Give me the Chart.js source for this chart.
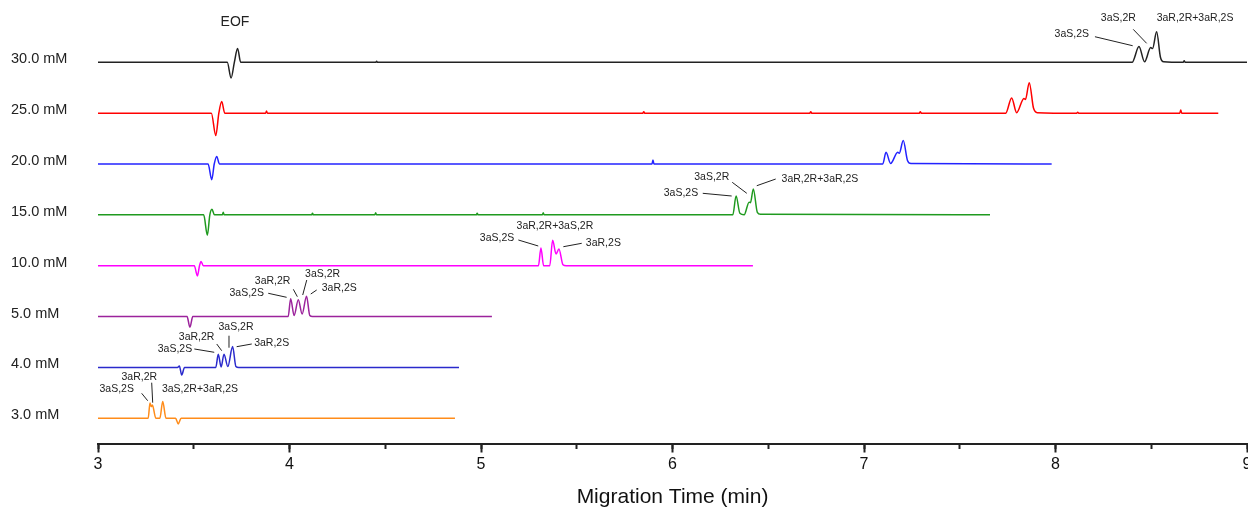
<!DOCTYPE html>
<html>
<head>
<meta charset="utf-8">
<script src="https://cdn.jsdelivr.net/npm/chart.js@4.4.1/dist/chart.umd.min.js"></script>
<style>html,body{margin:0;padding:0;background:#fff;overflow:hidden}</style>
</head>
<body>
<canvas id="c" width="1248" height="511" style="display:block;width:1248px;height:511px"></canvas>
<script>
// ---------- DATA ----------
const concentrations = ['30.0 mM', '25.0 mM', '20.0 mM', '15.0 mM', '10.0 mM', '5.0 mM', '4.0 mM', '3.0 mM'];
const stackOffsets = [7, 6, 5, 4, 3, 2, 1, 0];
const xTickValues = [3, 4, 5, 6, 7, 8, 9];

// migration time (min) / signal (stack units) per trace
const t30 = [3.0, 3.675, 3.695, 3.712, 3.729, 3.745, 4.45, 4.455, 4.46, 8.40, 8.436, 8.465, 8.497, 8.507, 8.528, 8.548, 8.565, 8.667, 8.672, 8.677, 9.0];
const v30 = [0, 0, -0.31, 0, 0.27, 0, 0, 0.02, 0, 0, 0.31, 0.01, 0.29, 0.27, 0.60, 0.10, 0.01, 0, 0.03, 0, 0];

const t25 = [3.0, 3.592, 3.615, 3.631, 3.646, 3.662, 3.875, 3.88, 3.885, 5.845, 5.85, 5.855, 6.717, 6.722, 6.727, 7.289, 7.294, 7.299, 7.74, 7.771, 7.797, 7.835, 7.843, 7.863, 7.885, 7.905, 8.111, 8.116, 8.121, 8.649, 8.654, 8.659, 8.85];
const v25 = [0, 0, -0.44, 0, 0.23, 0, 0, 0.04, 0, 0, 0.03, 0, 0, 0.03, 0, 0, 0.03, 0, 0, 0.30, 0.01, 0.29, 0.27, 0.60, 0.10, 0.01, 0, 0.02, 0, 0, 0.06, 0, 0];

const t20 = [3.0, 3.575, 3.594, 3.607, 3.620, 3.634, 5.893, 5.898, 5.903, 7.098, 7.115, 7.139, 7.176, 7.184, 7.205, 7.227, 7.245, 7.98];
const v20 = [0, 0, -0.31, 0, 0.15, 0, 0, 0.08, 0, 0, 0.23, 0.01, 0.23, 0.21, 0.46, 0.07, 0.01, 0];

const t15 = [3.0, 3.552, 3.571, 3.584, 3.595, 3.608, 3.649, 3.654, 3.659, 4.115, 4.12, 4.125, 4.445, 4.45, 4.455, 4.975, 4.98, 4.985, 5.32, 5.325, 5.33, 6.315, 6.332, 6.352, 6.374, 6.400, 6.407, 6.422, 6.443, 6.46, 7.658];
const v15 = [0, 0, -0.40, 0, 0.11, 0, 0, 0.05, 0, 0, 0.03, 0, 0, 0.04, 0, 0, 0.03, 0, 0, 0.04, 0, 0, 0.37, 0.03, 0, 0.25, 0.24, 0.51, 0.05, 0.01, 0];

const t10 = [3.0, 3.503, 3.519, 3.530, 3.538, 3.550, 5.300, 5.313, 5.327, 5.359, 5.374, 5.392, 5.407, 5.428, 5.445, 6.42];
const v10 = [0, 0, -0.20, 0, 0.085, 0, 0, 0.35, 0, 0, 0.50, 0.23, 0.33, 0.02, 0, 0];

const t5 = [3.0, 3.465, 3.48, 3.495, 3.993, 4.006, 4.024, 4.046, 4.066, 4.089, 4.106, 4.12, 5.057];
const v5 = [0, 0, -0.21, 0, 0, 0.35, 0.02, 0.33, 0.05, 0.40, 0.02, 0, 0];

const t4 = [3.0, 3.415, 3.425, 3.437, 3.452, 3.615, 3.628, 3.643, 3.658, 3.678, 3.703, 3.72, 3.735, 4.885];
const v4 = [0, 0, 0.03, -0.15, 0, 0, 0.26, 0.01, 0.26, 0.02, 0.41, 0.02, 0, 0];

const t3 = [3.0, 3.262, 3.2715, 3.278, 3.284, 3.302, 3.323, 3.338, 3.355, 3.405, 3.419, 3.434, 4.864];
const v3 = [0, 0, 0.30, 0.23, 0.26, 0, 0, 0.33, 0, 0, -0.11, 0, 0];

const traceTimes = [t30, t25, t20, t15, t10, t5, t4, t3];
const traceValues = [v30, v25, v20, v15, v10, v5, v4, v3];

// peak labels: [text, time, stack value]
const peakLabels = [
  ['3aS,2S', 8.085, 7.55], ['3aS,2R', 8.328, 7.865], ['3aR,2R+3aR,2S', 8.7285, 7.865],
  ['3aS,2S', 6.044, 4.424], ['3aS,2R', 6.205, 4.75], ['3aR,2R+3aR,2S', 6.77, 4.705],
  ['3aS,2S', 5.084, 3.545], ['3aR,2R+3aS,2R', 5.386, 3.781], ['3aR,2S', 5.639, 3.441],
  ['3aS,2S', 3.7765, 2.47], ['3aR,2R', 3.912, 2.705], ['3aS,2R', 4.173, 2.837], ['3aR,2S', 4.26, 2.568],
  ['3aS,2S', 3.402, 1.363], ['3aR,2R', 3.515, 1.593], ['3aS,2R', 3.7206, 1.789], ['3aR,2S', 3.907, 1.475],
  ['3aR,2R', 3.2157, 0.818], ['3aS,2S', 3.0977, 0.576], ['3aS,2R+3aR,2S', 3.5326, 0.576]
];
// leader lines: [t1, v1, t2, v2]
const leaderLines = [
  [8.206, 7.503, 8.403, 7.326], [8.406, 7.648, 8.476, 7.373],
  [6.158, 4.424, 6.309, 4.371], [6.312, 4.64, 6.388, 4.424], [6.539, 4.705, 6.44, 4.573],
  [5.195, 3.506, 5.299, 3.388], [5.526, 3.441, 5.43, 3.374],
  [3.889, 2.458, 3.985, 2.379], [4.020, 2.536, 4.041, 2.391], [4.090, 2.719, 4.069, 2.424], [4.142, 2.523, 4.111, 2.444],
  [3.503, 1.363, 3.607, 1.298], [3.620, 1.461, 3.646, 1.329], [3.684, 1.624, 3.684, 1.388], [3.803, 1.461, 3.724, 1.408],
  [3.228, 0.4915, 3.2595, 0.346], [3.2804, 0.70, 3.2856, 0.307]
];
const eofLabel = ['EOF', 3.7154, 7.798];

// ---------- STYLE ----------
const FONT = "'Liberation Sans', Arial, Helvetica, sans-serif";
const traceColors = ['#222222', '#ff0000', '#2323ff', '#1f9a1f', '#ff00ff', '#9c239c', '#2a2acc', '#ff8c1a'];
const Y_MIN = -0.4955, Y_MAX = 8.225;

const datasets = traceTimes.map((ts, i) => ({
  label: concentrations[i],
  data: ts.map((t, j) => ({ x: t, y: stackOffsets[i] + traceValues[i][j] })),
  borderColor: traceColors[i],
  borderWidth: 1.5,
  pointRadius: 0,
  fill: false,
  cubicInterpolationMode: 'monotone'
}));

const labelPlugin = {
  id: 'peakLabels',
  afterDatasetsDraw(chart) {
    const { ctx, scales: { x, y } } = chart;
    ctx.save();
    ctx.strokeStyle = '#222';
    ctx.lineWidth = 1;
    leaderLines.forEach(([a, b, c, d]) => {
      ctx.beginPath();
      ctx.moveTo(x.getPixelForValue(a), y.getPixelForValue(b));
      ctx.lineTo(x.getPixelForValue(c), y.getPixelForValue(d));
      ctx.stroke();
    });
    ctx.fillStyle = '#222';
    ctx.textAlign = 'center';
    ctx.textBaseline = 'middle';
    ctx.font = '10.5px ' + FONT;
    peakLabels.forEach(([txt, t, v]) => ctx.fillText(txt, x.getPixelForValue(t), y.getPixelForValue(v)));
    ctx.font = '14px ' + FONT;
    ctx.fillText(eofLabel[0], x.getPixelForValue(eofLabel[1]), y.getPixelForValue(eofLabel[2]));
    ctx.restore();
  }
};

new Chart(document.getElementById('c'), {
  type: 'line',
  data: { datasets },
  plugins: [labelPlugin],
  options: {
    responsive: false,
    animation: false,
    devicePixelRatio: 1,
    layout: { padding: { left: 11, right: 1, top: 0, bottom: 0 } },
    plugins: { legend: { display: false }, tooltip: { enabled: false } },
    scales: {
      x: {
        type: 'linear', min: 3, max: 9, position: 'bottom',
        afterBuildTicks(s) { s.ticks = xTickValues.map(v => ({ value: v })); },
        ticks: { font: { size: 16, family: FONT }, color: '#111', padding: 2, maxRotation: 0, autoSkip: false },
        grid: { display: true, drawOnChartArea: false, drawTicks: true, tickLength: 9, tickWidth: 2, tickColor: '#222' },
        border: { display: true, color: '#222', width: 2 },
        title: { display: true, text: 'Migration Time (min)', font: { size: 21, family: FONT }, color: '#111', padding: { top: 0, bottom: 1 } },
        afterFit(s) { s.height = 67.5; s.paddingLeft = 0; s.paddingRight = 0; }
      },
      x2: {
        type: 'linear', axis: 'x', min: 3, max: 9, position: { y: Y_MIN },
        ticks: { display: false, stepSize: 0.5 },
        grid: { display: true, drawOnChartArea: false, drawTicks: true, tickLength: 5, tickWidth: 2, tickColor: '#222' },
        border: { display: false },
        afterFit(s) { s.paddingLeft = 0; s.paddingRight = 0; }
      },
      y: {
        type: 'linear', min: Y_MIN, max: Y_MAX, position: 'left',
        afterBuildTicks(s) { s.ticks = stackOffsets.slice().sort((a, b) => a - b).map(v => ({ value: v })); },
        ticks: {
          callback: (val) => concentrations[stackOffsets.indexOf(val)],
          font: { size: 14.5, family: FONT }, color: '#222', crossAlign: 'far', labelOffset: -3, autoSkip: false
        },
        grid: { display: false },
        border: { display: false },
        afterFit(s) { s.width = 87; s.paddingTop = 0; s.paddingBottom = 0; }
      }
    }
  }
});
</script>
</body>
</html>
